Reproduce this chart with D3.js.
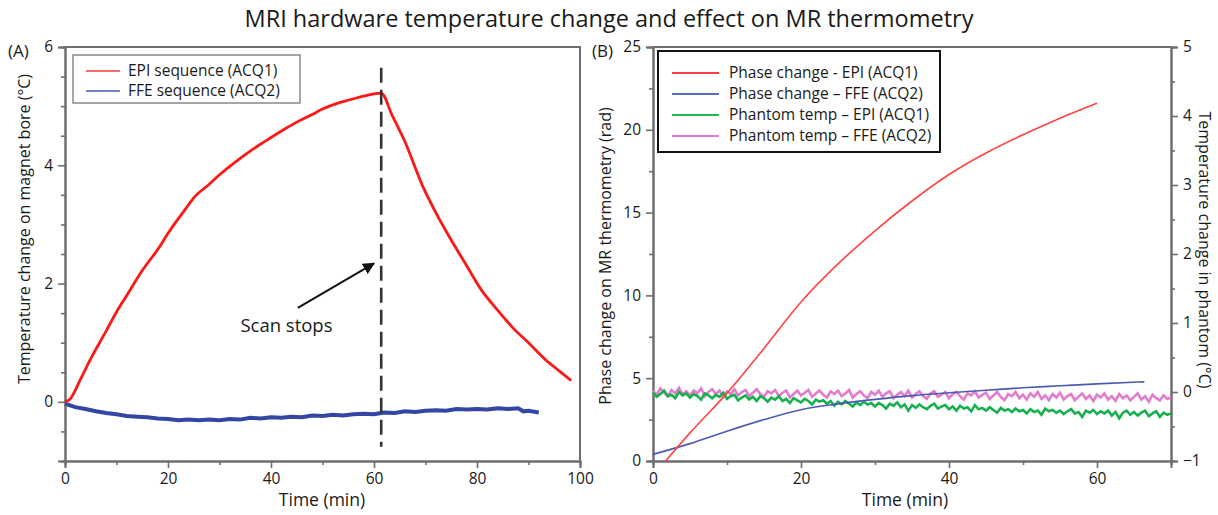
<!DOCTYPE html>
<html>
<head>
<meta charset="utf-8">
<script src="https://cdn.jsdelivr.net/npm/d3@7"></script>
<style>
  body { margin: 0; background: #fff; }
  svg text { font-family: "Open Sans", sans-serif; fill: #1a1a1a; }
  .axis .domain { stroke: #6e6e6e; stroke-width: 2; }
  .axis line { stroke: #6e6e6e; stroke-width: 1.6; }
  .axis text { font-size: 15.5px; }
</style>
</head>
<body>
<svg id="chart"></svg>
<script>
// ---- panel A : magnet bore temperature ----
const epiTimeA = [0, 1, 3, 5, 8, 10, 12, 15, 18.5, 20, 23.3, 25, 28, 30, 33, 35, 38, 40, 43, 45, 48, 50, 53, 55, 58, 61.4,
                  63.5, 65.8, 69.7, 72, 74.9, 78, 80.7, 84, 87.2, 90, 93.1, 96, 98.3];
const epiTempA = [0, 0.05, 0.38, 0.73, 1.2, 1.52, 1.8, 2.22, 2.64, 2.85, 3.25, 3.45, 3.68, 3.84, 4.05, 4.18, 4.36, 4.47, 4.63, 4.73, 4.86, 4.95, 5.05, 5.1, 5.17, 5.22,
                  4.85, 4.44, 3.6, 3.2, 2.75, 2.3, 1.91, 1.55, 1.23, 1.0, 0.73, 0.52, 0.36];
const ffeTimeA = [0, 1, 2, 4, 6, 8, 10, 12, 14, 16, 18, 20, 22, 24, 26, 28, 30, 32, 34, 36, 38, 40, 42, 44, 46, 48, 50,
                  52, 54, 56, 58, 60, 62, 64, 66, 68, 70, 72, 74, 76, 78, 80, 82, 84, 86, 88, 89, 90, 92];
const ffeTempA = [-0.03, -0.06, -0.09, -0.12, -0.16, -0.19, -0.21, -0.24, -0.25, -0.26, -0.28, -0.29, -0.31, -0.30, -0.31, -0.30, -0.31, -0.29, -0.30, -0.27, -0.28, -0.26, -0.27, -0.25, -0.26, -0.23, -0.24,
                  -0.22, -0.23, -0.21, -0.20, -0.21, -0.18, -0.19, -0.16, -0.17, -0.15, -0.14, -0.15, -0.12, -0.13, -0.12, -0.13, -0.11, -0.12, -0.11, -0.16, -0.15, -0.18];
const scanStopTime = 61.4;
const legendA = ["EPI sequence (ACQ1)", "FFE sequence (ACQ2)"];

// ---- panel B : thermometry phase and phantom temperature ----
const phaseEpiTime = [1.7, 5, 10, 15, 20, 25, 30, 35, 40, 45, 50, 55, 60];
const phaseEpi = [0, 1.7, 4.1, 6.8, 9.6, 11.9, 13.9, 15.7, 17.3, 18.6, 19.7, 20.7, 21.6];
const phaseFfeTime = [0, 5, 10, 15, 20, 25, 30, 35, 40, 45, 50, 55, 60, 66.4];
const phaseFfe = [0.4, 1.05, 1.8, 2.5, 3.1, 3.45, 3.72, 3.95, 4.12, 4.27, 4.42, 4.54, 4.66, 4.78];
// phantom temperature, one reading every half minute (0..70)
const phantomEpi = [
  -0.01, -0.07, -0.03, 0.02, -0.06, -0.04, -0.09, 0.00, -0.05, -0.02,
  -0.08, -0.03, -0.06, -0.11, -0.02, -0.05, -0.09, -0.04, -0.07, -0.01,
  -0.10, -0.06, -0.04, -0.12, -0.08, -0.05, -0.11, -0.07, -0.13, -0.06,
  -0.09, -0.14, -0.08, -0.11, -0.06, -0.13, -0.10, -0.16, -0.09, -0.12,
  -0.15, -0.10, -0.13, -0.18, -0.11, -0.14, -0.12, -0.17, -0.13, -0.20,
  -0.14, -0.18, -0.13, -0.17, -0.21, -0.15, -0.19, -0.14, -0.18, -0.16,
  -0.21, -0.16, -0.19, -0.24, -0.17, -0.20, -0.15, -0.22, -0.18, -0.27,
  -0.19, -0.23, -0.18, -0.22, -0.25, -0.20, -0.17, -0.24, -0.21, -0.19,
  -0.25, -0.21, -0.27, -0.20, -0.24, -0.22, -0.28, -0.19, -0.25, -0.23,
  -0.27, -0.22, -0.26, -0.30, -0.23, -0.27, -0.25, -0.29, -0.24, -0.28,
  -0.26, -0.31, -0.25, -0.29, -0.27, -0.33, -0.24, -0.28, -0.26, -0.30,
  -0.27, -0.32, -0.28, -0.25, -0.31, -0.29, -0.36, -0.27, -0.30, -0.26,
  -0.32, -0.28, -0.31, -0.27, -0.34, -0.29, -0.38, -0.30, -0.27, -0.33,
  -0.29, -0.34, -0.30, -0.27, -0.35, -0.31, -0.28, -0.36, -0.30, -0.33,
  -0.31];
const phantomFfe = [
  0.02, -0.04, 0.05, -0.01, -0.06, 0.03, -0.02, 0.06, -0.03, 0.01,
  -0.05, 0.02, -0.02, 0.05, -0.06, 0.00, 0.04, -0.03, 0.02, -0.07,
  0.01, -0.03, 0.04, -0.05, 0.00, 0.03, -0.06, -0.01, 0.04, -0.03,
  -0.07, 0.01, -0.02, 0.03, -0.06, -0.01, 0.02, -0.08, -0.03, 0.02,
  -0.05, -0.01, 0.03, -0.07, -0.02, 0.02, -0.04, -0.08, 0.01, -0.03,
  0.02, -0.06, -0.02, 0.03, -0.08, -0.03, 0.01, -0.05, -0.09, 0.00,
  -0.04, 0.02, -0.07, -0.02, 0.01, -0.09, -0.04, 0.00, -0.06, 0.02,
  -0.08, -0.03, 0.01, -0.06, -0.10, -0.02, 0.01, -0.07, -0.04, 0.00,
  -0.09, -0.03, 0.00, -0.06, -0.11, -0.02, -0.05, 0.01, -0.08, -0.04,
  -0.01, -0.10, -0.05, 0.00, -0.07, -0.12, -0.03, -0.06, 0.00, -0.09,
  -0.04, -0.11, -0.02, -0.07, 0.00, -0.10, -0.05, -0.12, -0.03, -0.08,
  -0.01, -0.11, -0.06, -0.03, -0.12, -0.07, -0.02, -0.10, -0.05, -0.13,
  -0.04, -0.08, -0.02, -0.11, -0.06, -0.13, -0.03, -0.09, -0.05, -0.12,
  -0.07, -0.02, -0.11, -0.06, -0.14, -0.04, -0.09, -0.12, -0.05, -0.10,
  -0.08];
const legendB = ["Phase change - EPI (ACQ1)", "Phase change \u2013 FFE (ACQ2)", "Phantom temp \u2013 EPI (ACQ1)", "Phantom temp \u2013 FFE (ACQ2)"];

// ticks
const aXTicks = [0, 20, 40, 60, 80, 100];
const aYTicks = [0, 2, 4, 6];
const bXTicks = [0, 20, 40, 60];
const bLeftTicks = [0, 5, 10, 15, 20, 25];
const bRightTicks = [-1, 0, 1, 2, 3, 4, 5];

const w = 1218, h = 515;
const svg = d3.select("#chart").attr("width", w).attr("height", h);

const xA = d3.scaleLinear().domain([0, 100]).range([65, 580]);
const yA = d3.scaleLinear().domain([-1, 6]).range([461, 47]);
const xB = d3.scaleLinear().domain([0, 70]).range([653, 1171]);
const yBL = d3.scaleLinear().domain([0, 25]).range([461, 47]);
const yBR = d3.scaleLinear().domain([-1, 5]).range([461, 47]);

// axes with minor ticks
function drawAxis(gen, scale, major, minorStep, translate) {
  const [d0, d1] = scale.domain();
  const minor = d3.range(d0, d1 + 1e-9, minorStep).filter(v => !major.includes(+v.toFixed(3)));
  svg.append("g").attr("class", "axis").attr("transform", translate)
    .call(gen(scale).tickValues(minor).tickSize(4).tickFormat(""));
  svg.append("g").attr("class", "axis").attr("transform", translate)
    .call(gen(scale).tickValues(major).tickSize(7).tickPadding(5).tickFormat(d3.format("d")));
}

drawAxis(d3.axisBottom, xA, aXTicks, 10, "translate(0,461)");
drawAxis(d3.axisLeft, yA, aYTicks, 0.5, "translate(65,0)");
drawAxis(d3.axisBottom, xB, bXTicks, 10, "translate(0,461)");
drawAxis(d3.axisLeft, yBL, bLeftTicks, 2.5, "translate(653,0)");
drawAxis(d3.axisRight, yBR, bRightTicks, 0.5, "translate(1171,0)");

// frame lines
svg.append("path")
  .attr("d", `M${xA(0)},${yA(6)}H${xA(100)}V${yA(-1)}`)
  .attr("fill", "none").attr("stroke", "#6e6e6e").attr("stroke-width", 2);
svg.append("path")
  .attr("d", `M${xB(0)},${yBL(25)}H${xB(70)}`)
  .attr("fill", "none").attr("stroke", "#6e6e6e").attr("stroke-width", 2);

// ---- panel A lines ----
svg.append("path").datum(d3.zip(ffeTimeA, ffeTempA))
  .attr("d", d3.line().x(d => xA(d[0])).y(d => yA(d[1])))
  .attr("fill", "none").attr("stroke", "#3446a3").attr("stroke-width", 4);
svg.append("path").datum(d3.zip(epiTimeA, epiTempA))
  .attr("d", d3.line().x(d => xA(d[0])).y(d => yA(d[1])).curve(d3.curveMonotoneX))
  .attr("fill", "none").attr("stroke", "#ff1717").attr("stroke-width", 2.8);

// scan stop marker
svg.append("line")
  .attr("x1", xA(scanStopTime)).attr("x2", xA(scanStopTime))
  .attr("y1", yA(5.65)).attr("y2", yA(-0.76))
  .attr("stroke", "#333").attr("stroke-width", 2.6).attr("stroke-dasharray", "15,7");

svg.append("defs").append("marker")
  .attr("id", "arrow").attr("viewBox", "0 0 10 10").attr("refX", 9).attr("refY", 5)
  .attr("markerWidth", 6).attr("markerHeight", 6).attr("orient", "auto")
  .append("path").attr("d", "M0,0L10,5L0,10Z").attr("fill", "#111");
svg.append("line")
  .attr("x1", xA(45.2)).attr("y1", yA(1.59))
  .attr("x2", xA(60.0)).attr("y2", yA(2.34))
  .attr("stroke", "#111").attr("stroke-width", 2).attr("marker-end", "url(#arrow)");
svg.append("text").attr("x", xA(43)).attr("y", yA(1.18))
  .attr("text-anchor", "middle").attr("font-size", "18.5px").text("Scan stops");

// legend A
const legA = svg.append("g");
legA.append("rect").attr("x", 73).attr("y", 55).attr("width", 227).attr("height", 48)
  .attr("fill", "#fff").attr("stroke", "#777").attr("stroke-width", 1.3);
const colorsA = ["#ff3b3b", "#4a58b0"];
legendA.forEach((t, i) => {
  const y = 71 + i * 20;
  legA.append("line").attr("x1", 86).attr("x2", 120).attr("y1", y).attr("y2", y)
    .attr("stroke", colorsA[i]).attr("stroke-width", 1.6);
  legA.append("text").attr("x", 128).attr("y", y + 5).attr("font-size", "15.5px").text(t);
});

// ---- panel B lines ----
const lineL = d3.line().x(d => xB(d[0])).y(d => yBL(d[1])).curve(d3.curveMonotoneX);
const lineR = d3.line().x(d => xB(d[0])).y(d => yBR(d[1]));
const halfMinutes = d3.range(0, 141).map(i => i / 2);
svg.append("path").datum(d3.zip(halfMinutes, phantomFfe))
  .attr("d", lineR).attr("fill", "none").attr("stroke", "#e27ccd").attr("stroke-width", 2.6);
svg.append("path").datum(d3.zip(halfMinutes, phantomEpi))
  .attr("d", lineR).attr("fill", "none").attr("stroke", "#16b04e").attr("stroke-width", 2.6);
svg.append("path").datum(d3.zip(phaseFfeTime, phaseFfe))
  .attr("d", lineL).attr("fill", "none").attr("stroke", "#4b5bb2").attr("stroke-width", 1.6);
svg.append("path").datum(d3.zip(phaseEpiTime, phaseEpi))
  .attr("d", lineL).attr("fill", "none").attr("stroke", "#ff4343").attr("stroke-width", 1.6);

// legend B
const legB = svg.append("g");
legB.append("rect").attr("x", 658).attr("y", 51).attr("width", 282).attr("height", 101)
  .attr("fill", "#fff").attr("stroke", "#111").attr("stroke-width", 2);
const colorsB = ["#ff3b4b", "#5a6cc0", "#22b85a", "#e27ccd"];
legendB.forEach((t, i) => {
  const y = 73 + i * 21;
  legB.append("line").attr("x1", 672).attr("x2", 719).attr("y1", y).attr("y2", y)
    .attr("stroke", colorsB[i]).attr("stroke-width", 2.2);
  legB.append("text").attr("x", 729).attr("y", y + 5).attr("font-size", "15.5px").text(t);
});

// ---- titles and labels ----
svg.append("text").attr("x", 609).attr("y", 27).attr("text-anchor", "middle")
  .attr("font-size", "23.5px").text("MRI hardware temperature change and effect on MR thermometry");
svg.append("text").attr("x", 8).attr("y", 57).attr("font-size", "17px").text("(A)");
svg.append("text").attr("x", 592).attr("y", 57).attr("font-size", "17px").text("(B)");

svg.append("text").attr("transform", "translate(30,229) rotate(-90)").attr("text-anchor", "middle")
  .attr("font-size", "16px").text("Temperature change on magnet bore (\u00B0C)");
svg.append("text").attr("x", 322).attr("y", 506).attr("text-anchor", "middle")
  .attr("font-size", "17.5px").text("Time (min)");

svg.append("text").attr("transform", "translate(611,256) rotate(-90)").attr("text-anchor", "middle")
  .attr("font-size", "16px").text("Phase change on MR thermometry (rad)");
svg.append("text").attr("transform", "translate(1199,250) rotate(90)").attr("text-anchor", "middle")
  .attr("font-size", "16px").text("Temperature change in phantom (\u00B0C)");
svg.append("text").attr("x", 905).attr("y", 506).attr("text-anchor", "middle")
  .attr("font-size", "17.5px").text("Time (min)");
</script>
</body>
</html>
